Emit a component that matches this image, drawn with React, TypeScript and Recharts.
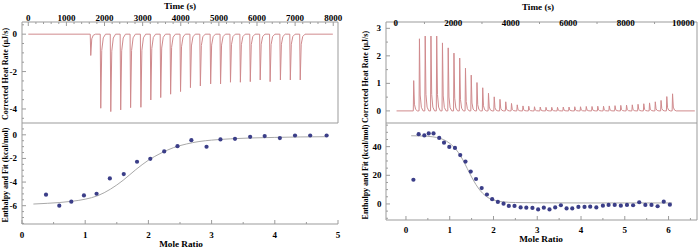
import React from 'react';
import { ComposedChart, Line, Scatter, XAxis, YAxis, ReferenceLine } from 'recharts';

const FONT = '"Liberation Serif", "Times New Roman", serif';
const AXIS_COLOR = '#9b9b9b';
const TRACE_COLOR = '#d08a8d';
const FIT_COLOR = '#a9a9a9';
const DOT_COLOR = '#3b3e88';

// ---------- Left experiment ----------
const leftInjTimes = [1625, 1887, 2150, 2410, 2670, 2940, 3200, 3460, 3720, 3980, 4240, 4500, 4770, 5030, 5290, 5550, 5810, 6070, 6330, 6600, 6860, 7120];
const leftInjPeaks = [-1.14, -3.96, -4.14, -4.05, -3.93, -3.91, -3.52, -3.39, -3.21, -3.07, -2.86, -2.77, -2.66, -2.66, -2.57, -2.57, -2.54, -2.45, -2.54, -2.45, -2.45, -2.45];
const leftRun = [0, 7990];
const leftRatio = [0.38, 0.59, 0.78, 0.98, 1.18, 1.39, 1.61, 1.82, 2.03, 2.25, 2.46, 2.68, 2.92, 3.14, 3.37, 3.61, 3.84, 4.08, 4.32, 4.56, 4.82];
const leftEnthalpy = [-5.07, -6.0, -5.66, -5.13, -4.99, -3.69, -3.32, -2.28, -2.03, -1.41, -0.96, -0.45, -1.01, -0.39, -0.34, -0.17, -0.11, -0.28, -0.06, -0.06, -0.06];
const leftFitRatio = [0.18, 0.4, 0.6, 0.8, 1.0, 1.2, 1.4, 1.6, 1.8, 2.0, 2.2, 2.4, 2.6, 2.8, 3.0, 3.3, 3.6, 4.0, 4.4, 4.82];
const leftFitValue = [-5.86, -5.8, -5.73, -5.62, -5.45, -5.15, -4.6, -3.85, -2.95, -2.15, -1.55, -1.08, -0.78, -0.57, -0.45, -0.34, -0.27, -0.22, -0.18, -0.16];

const leftTimeTicks = [0, 1000, 2000, 3000, 4000, 5000, 6000, 7000, 8000];
const leftHeatTicks = [0, -2, -4];
const leftRatioTicks = [0, 1, 2, 3, 4, 5];
const leftEnthalpyTicks = [0, -2, -4, -6];

// ---------- Right experiment ----------
const rightInjTimes = [612, 812, 1012, 1212, 1412, 1612, 1812, 2012, 2212, 2412, 2612, 2812, 3012, 3212, 3412, 3612, 3812, 4012, 4212, 4412, 4612, 4812, 5012, 5212, 5412, 5612, 5812, 6012, 6212, 6412, 6612, 6812, 7012, 7212, 7412, 7612, 7812, 8012, 8212, 8412, 8612, 8812, 9012, 9212, 9412, 9612];
const rightInjPeaks = [1.1, 2.62, 2.72, 2.72, 2.72, 2.47, 2.29, 2.1, 1.92, 1.55, 1.3, 1.03, 0.84, 0.64, 0.51, 0.42, 0.33, 0.27, 0.22, 0.18, 0.17, 0.15, 0.14, 0.13, 0.13, 0.13, 0.14, 0.14, 0.15, 0.15, 0.16, 0.16, 0.17, 0.17, 0.18, 0.19, 0.2, 0.21, 0.22, 0.24, 0.26, 0.29, 0.33, 0.38, 0.52, 0.62];
const rightRun = [30, 10400];
const rightRatio = [0.17, 0.29, 0.42, 0.52, 0.63, 0.76, 0.87, 0.99, 1.12, 1.24, 1.36, 1.48, 1.6, 1.73, 1.85, 1.97, 2.1, 2.23, 2.35, 2.48, 2.62, 2.75, 2.89, 3.02, 3.15, 3.28, 3.41, 3.54, 3.67, 3.8, 3.94, 4.08, 4.21, 4.35, 4.5, 4.63, 4.77, 4.91, 5.05, 5.19, 5.33, 5.47, 5.61, 5.75, 5.89, 6.03];
const rightEnthalpy = [16.9, 48.7, 47.8, 49.2, 49.2, 46.1, 42.8, 39.8, 39.1, 34.1, 29.6, 22.6, 17.4, 11.1, 6.6, 3.3, 1.4, 0.2, -1.4, -1.4, -2.4, -2.6, -2.8, -3.8, -2.6, -3.8, -2.4, -0.9, -3.1, -3.1, -2.1, -2.1, -1.9, -2.4, -1.2, -0.7, -0.7, -1.2, -0.7, -0.9, 1.2, -0.7, -0.7, -1.6, 1.6, -0.5];
const rightFitRatio = [0.12, 0.3, 0.5, 0.7, 0.85, 1.0, 1.1, 1.2, 1.3, 1.4, 1.5, 1.6, 1.7, 1.8, 1.9, 2.0, 2.2, 2.5, 3.0, 4.0, 5.0, 6.08];
const rightFitValue = [47.6, 47.5, 47.2, 46.4, 45.0, 42.3, 39.5, 35.8, 30.8, 24.8, 18.8, 13.5, 9.2, 6.1, 4.0, 2.7, 1.5, 1.0, 0.8, 0.7, 0.7, 0.7];

const rightTimeTicks = [0, 2000, 4000, 6000, 8000, 10000];
const rightHeatTicks = [0, 1, 2, 3];
const rightRatioTicks = [0, 1, 2, 3, 4, 5, 6];
const rightEnthalpyTicks = [0, 20, 40];

// axis titles
const timeTitle = 'Time (s)';
const heatTitle = 'Corrected Heat Rate (µJ/s)';
const ratioTitle = 'Mole Ratio';
const enthalpyTitle = 'Enthalpy and Fit (kcal/mol)';

// drawing template of one injection peak: [seconds after injection, fraction of peak]
const spikeShape: [number, number][] = [[0, 0], [14, 1], [40, 0.22], [80, 0.05], [140, 0]];

function buildTrace(times: number[], peaks: number[], run: number[]) {
  const pts: { t: number; v: number }[] = [{ t: run[0], v: 0 }];
  times.forEach((t0, i) => {
    spikeShape.forEach(([dt, f]) => pts.push({ t: t0 + dt, v: peaks[i] * f }));
  });
  pts.push({ t: run[1], v: 0 });
  return pts;
}
const zip = (xs: number[], ys: number[]) => xs.map((x, i) => ({ x, y: ys[i] }));

const leftTrace = buildTrace(leftInjTimes, leftInjPeaks, leftRun);
const rightTrace = buildTrace(rightInjTimes, rightInjPeaks, rightRun);
const leftPoints = zip(leftRatio, leftEnthalpy);
const leftFit = zip(leftFitRatio, leftFitValue);
const rightPoints = zip(rightRatio, rightEnthalpy);
const rightFit = zip(rightFitRatio, rightFitValue);

function withMinors(majors: number[], step: number, lo: number, hi: number) {
  const out: number[] = [];
  const start = Math.ceil(lo / step - 1e-9);
  const end = Math.floor(hi / step + 1e-9);
  for (let k = start; k <= end; k++) out.push(Math.round(k * step * 1000) / 1000);
  majors.forEach((m) => { if (!out.some((o) => Math.abs(o - m) < 1e-6)) out.push(m); });
  return out.sort((a, b) => a - b);
}

const textStyle = { fontFamily: FONT, fontWeight: 700, fontSize: 9, fill: '#000' } as const;

function makeTick(side: 'top' | 'bottom' | 'left', majors: number[], labelOffset: number) {
  return (props: any) => {
    const { x, y, payload } = props;
    const v = payload.value as number;
    const major = majors.some((m) => Math.abs(m - v) < 1e-6);
    const len = major ? 4 : 2;
    if (side === 'left') {
      return (
        <g>
          <line x1={x} y1={y} x2={x + len} y2={y} stroke={AXIS_COLOR} strokeWidth={1} />
          {major && (
            <text x={x - labelOffset} y={y + 3} textAnchor="end" style={textStyle}>{String(v)}</text>
          )}
        </g>
      );
    }
    if (side === 'top') {
      return (
        <g>
          <line x1={x} y1={y} x2={x} y2={y + len} stroke={AXIS_COLOR} strokeWidth={1} />
          {major && (
            <text x={x} y={y + labelOffset} textAnchor="middle" style={textStyle}>{String(v)}</text>
          )}
        </g>
      );
    }
    return (
      <g>
        <line x1={x} y1={y} x2={x} y2={y - len} stroke={AXIS_COLOR} strokeWidth={1} />
        {major && (
          <text x={x} y={y + labelOffset} textAnchor="middle" style={textStyle}>{String(v)}</text>
        )}
      </g>
    );
  };
}

const Title = ({ px, py, text, rotate, size }: any) => (
  <text
    x={px}
    y={py}
    textAnchor="middle"
    dominantBaseline={rotate ? 'central' : 'auto'}
    transform={rotate ? `rotate(-90 ${px} ${py})` : undefined}
    style={{ fontFamily: FONT, fontWeight: 700, fontSize: size, fill: '#000' }}
  >
    {text}
  </text>
);

const Dot = (p: any) => <circle cx={p.cx} cy={p.cy} r={2.1} fill={DOT_COLOR} />;

const axisLine = { stroke: AXIS_COLOR, strokeWidth: 1 };

// domains
const ltX: [number, number] = [-165, 8125];
const ltY: [number, number] = [-4.75, 0.65];
const lbX: [number, number] = [0, 5];
const lbY: [number, number] = [-7.55, 1.0];
const rtX: [number, number] = [-337, 10476];
const rtY: [number, number] = [-0.44, 3.23];
const rbX: [number, number] = [-0.456, 6.65];
const rbY: [number, number] = [-11.2, 56.5];

export default function App() {
  return (
    <div style={{ position: 'absolute', left: 0, top: 0, width: 700, height: 248, background: '#fff', overflow: 'hidden' }}>
      {/* Left top: raw heat rate */}
      <div style={{ position: 'absolute', left: 0, top: 0 }}>
        <ComposedChart width={350} height={125} data={leftTrace} margin={{ top: 0, right: 12, bottom: 2, left: 0 }}>
          <XAxis
            dataKey="t" type="number" orientation="top" height={22} domain={ltX} allowDataOverflow
            ticks={withMinors(leftTimeTicks, 200, 0, 8000)} interval={0} tickSize={0} tickMargin={0} tickLine={false}
            tick={makeTick('top', leftTimeTicks, -1.5)} axisLine={axisLine}
          />
          <YAxis
            type="number" width={22} domain={ltY} allowDataOverflow
            ticks={withMinors(leftHeatTicks, 0.5, -4.5, 0.5)} interval={0} tickSize={0} tickMargin={0} tickLine={false}
            tick={makeTick('left', leftHeatTicks, 5)} axisLine={axisLine}
          />
          <ReferenceLine x={ltX[1]} stroke={AXIS_COLOR} ifOverflow="visible" />
          <ReferenceLine y={ltY[0]} stroke={AXIS_COLOR} ifOverflow="visible" />
          <Line dataKey="v" stroke={TRACE_COLOR} strokeWidth={1} dot={false} isAnimationActive={false} type="linear" />
        </ComposedChart>
      </div>

      {/* Left bottom: integrated heats */}
      <div style={{ position: 'absolute', left: 0, top: 0 }}>
        <ComposedChart width={350} height={248} margin={{ top: 123, right: 12, bottom: 0, left: 0 }}>
          <XAxis
            dataKey="x" type="number" orientation="bottom" height={24} domain={lbX} allowDataOverflow
            ticks={withMinors(leftRatioTicks, 0.5, 0, 5)} interval={0} tickSize={0} tickMargin={0} tickLine={false}
            tick={makeTick('bottom', leftRatioTicks, 14)} axisLine={axisLine}
          />
          <YAxis
            dataKey="y" type="number" width={22} domain={lbY} allowDataOverflow
            ticks={withMinors(leftEnthalpyTicks, 0.5, -7.5, 0.5)} interval={0} tickSize={0} tickMargin={0} tickLine={false}
            tick={makeTick('left', leftEnthalpyTicks, 5)} axisLine={axisLine}
          />
          <Line data={leftFit} dataKey="y" stroke={FIT_COLOR} strokeWidth={1} dot={false} isAnimationActive={false} type="monotone" />
          <Scatter data={leftPoints} dataKey="y" fill={DOT_COLOR} shape={Dot} isAnimationActive={false} />
        </ComposedChart>
      </div>

      {/* Right top: raw heat rate */}
      <div style={{ position: 'absolute', left: 350, top: 0 }}>
        <ComposedChart width={350} height={125} data={rightTrace} margin={{ top: 0, right: 3, bottom: 2, left: 0 }}>
          <XAxis
            dataKey="t" type="number" orientation="top" height={22} domain={rtX} allowDataOverflow
            ticks={withMinors(rightTimeTicks, 1000, 0, 10000)} interval={0} tickSize={0} tickMargin={0} tickLine={false}
            tick={makeTick('top', rightTimeTicks, 3.5)} axisLine={axisLine}
          />
          <YAxis
            type="number" width={36} domain={rtY} allowDataOverflow
            ticks={withMinors(rightHeatTicks, 0.5, -0.4, 3.2)} interval={0} tickSize={0} tickMargin={0} tickLine={false}
            tick={makeTick('left', rightHeatTicks, 5)} axisLine={axisLine}
          />
          <ReferenceLine x={rtX[1]} stroke={AXIS_COLOR} ifOverflow="visible" />
          <ReferenceLine y={rtY[0]} stroke={AXIS_COLOR} ifOverflow="visible" />
          <Line dataKey="v" stroke={TRACE_COLOR} strokeWidth={1} dot={false} isAnimationActive={false} type="linear" />
        </ComposedChart>
      </div>

      {/* Right bottom: integrated heats */}
      <div style={{ position: 'absolute', left: 350, top: 0 }}>
        <ComposedChart width={350} height={248} margin={{ top: 123, right: 3, bottom: 0, left: 0 }}>
          <XAxis
            dataKey="x" type="number" orientation="bottom" height={28} domain={rbX} allowDataOverflow
            ticks={withMinors(rightRatioTicks, 0.5, -0.4, 6.6)} interval={0} tickSize={0} tickMargin={0} tickLine={false}
            tick={makeTick('bottom', rightRatioTicks, 12.5)} axisLine={axisLine}
          />
          <YAxis
            dataKey="y" type="number" width={36} domain={rbY} allowDataOverflow
            ticks={withMinors(rightEnthalpyTicks, 5, -10, 55)} interval={0} tickSize={0} tickMargin={0} tickLine={false}
            tick={makeTick('left', rightEnthalpyTicks, 4.5)} axisLine={axisLine}
          />
          <ReferenceLine x={rbX[1]} stroke={AXIS_COLOR} ifOverflow="visible" />
          <Line data={rightFit} dataKey="y" stroke={FIT_COLOR} strokeWidth={1} dot={false} isAnimationActive={false} type="monotone" />
          <Scatter data={rightPoints} dataKey="y" fill={DOT_COLOR} shape={Dot} isAnimationActive={false} />
        </ComposedChart>
      </div>

      {/* Axis titles */}
      <svg width={700} height={248} style={{ position: 'absolute', left: 0, top: 0, pointerEvents: 'none' }}>
        <Title px={180} py={9} text={timeTitle} size={9.2} />
        <Title px={538} py={10} text={timeTitle} size={9.2} />
        <Title px={5.5} py={74} text={heatTitle} size={8} rotate />
        <Title px={365} py={77} text={heatTitle} size={8} rotate />
        <Title px={181} py={247} text={ratioTitle} size={9.2} />
        <Title px={541} py={242} text={ratioTitle} size={9.2} />
        <Title px={5.5} py={175} text={enthalpyTitle} size={8} rotate />
        <Title px={365} py={172} text={enthalpyTitle} size={8} rotate />
      </svg>
    </div>
  );
}
